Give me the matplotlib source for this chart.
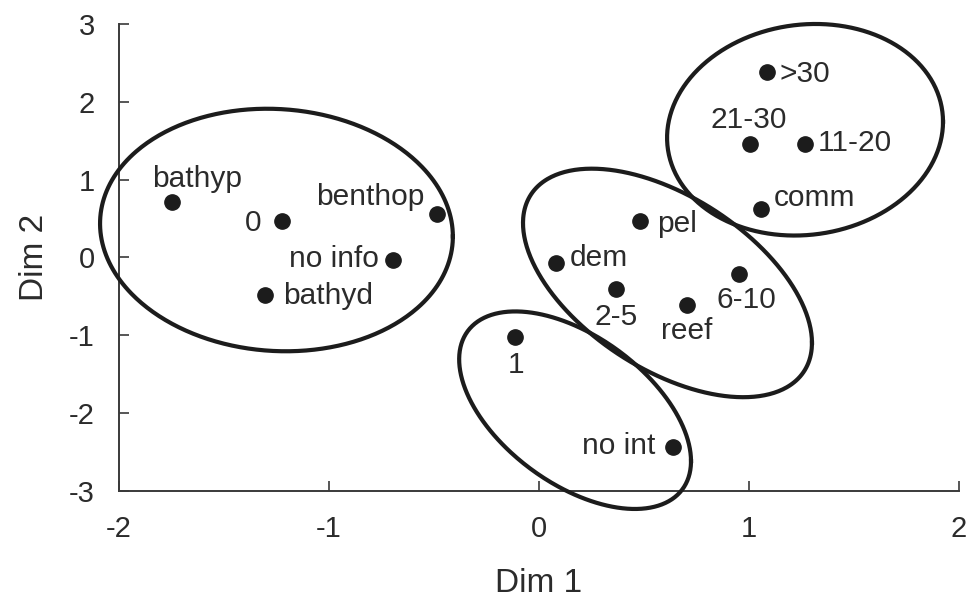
import numpy as np
import matplotlib.pyplot as plt

plt.rcParams['font.family'] = ['Liberation Sans', 'DejaVu Sans']
plt.rcParams['axes.unicode_minus'] = False

# MDS scores of the categories
names = ['bathyp', '0', 'benthop', 'no info', 'bathyd', '1', 'dem', 'pel',
         '2-5', 'reef', '6-10', 'no int', '>30', '21-30', '11-20', 'comm']
dim1 = [-1.747, -1.223, -0.485, -0.691, -1.302, -0.112, 0.083, 0.483,
        0.369, 0.706, 0.956, 0.642, 1.087, 1.007, 1.269, 1.058]
dim2 = [0.714, 0.474, 0.564, -0.038, -0.483, -1.022, -0.077, 0.465,
        -0.401, -0.615, -0.218, -2.432, 2.388, 1.462, 1.458, 0.624]

# group ellipses: centre, half width, half height, y shift of the rightmost point
ell_cx = [-1.248, 1.269, 0.614, 0.174]
ell_cy = [0.353, 1.641, -0.327, -1.962]
ell_hw = [0.840, 0.657, 0.688, 0.552]
ell_hh = [1.558, 1.359, 1.468, 1.269]
ell_dy = [-0.083, 0.103, -0.769, -0.654]

# where each label sits relative to its dot (pixels, alignment)
lab = {
    'bathyp': (-20, 15, 'left'),
    '0': (-20, -10, 'right'),
    'benthop': (-12, 9, 'right'),
    'no info': (-15, -7, 'right'),
    'bathyd': (18, -9, 'left'),
    '1': (1, -36, 'center'),
    'dem': (14, -3, 'left'),
    'pel': (17, -11, 'left'),
    '2-5': (0, -36, 'center'),
    'reef': (0, -34, 'center'),
    '6-10': (7, -34, 'center'),
    'no int': (-18, -7, 'right'),
    '>30': (13, -10, 'left'),
    '21-30': (-1, 16, 'center'),
    '11-20': (13, -7, 'left'),
    'comm': (13, 3, 'left'),
}

ink = '#1c1c1c'
fig = plt.figure(figsize=(9.7, 6.04), dpi=100)
ax = fig.add_axes([0.1222, 0.1871, 0.8660, 0.7732])

t = np.linspace(0, 2*np.pi, 400)
for cx, cy, hw, hh, dy in zip(ell_cx, ell_cy, ell_hw, ell_hh, ell_dy):
    ex = cx + hw*np.cos(t)
    ey = cy + dy*np.cos(t) + np.sqrt(hh**2 - dy**2)*np.sin(t)
    ax.plot(ex, ey, color=ink, lw=3.0, clip_on=False, zorder=3)

ax.plot(dim1, dim2, 'o', color=ink, ms=11, zorder=4, clip_on=False)
for n, x, y in zip(names, dim1, dim2):
    dx, dy, ha = lab[n]
    ax.annotate(n, (x, y), xytext=(dx, dy), textcoords='offset pixels',
                ha=ha, va='baseline', fontsize=21.5, color='#2b2b2b')

ax.set_xlim(-2, 2)
ax.set_ylim(-3, 3)
ax.set_xticks([-2, -1, 0, 1, 2])
ax.set_yticks([-3, -2, -1, 0, 1, 2, 3])
ax.spines['top'].set_visible(False)
ax.spines['right'].set_visible(False)
for s in ['left', 'bottom']:
    ax.spines[s].set_linewidth(1.4)
    ax.spines[s].set_color('#3a3a3a')
ax.tick_params(direction='in', length=7, width=1.2, color='#3a3a3a',
               labelsize=21, labelcolor='#2b2b2b')
ax.tick_params(axis='x', pad=17)
ax.tick_params(axis='y', pad=17)
ax.set_xlabel('Dim 1', fontsize=24, color='#2b2b2b', labelpad=18)
ax.set_ylabel('Dim 2', fontsize=24, color='#2b2b2b', labelpad=14)

plt.savefig('out.png', dpi=100)
